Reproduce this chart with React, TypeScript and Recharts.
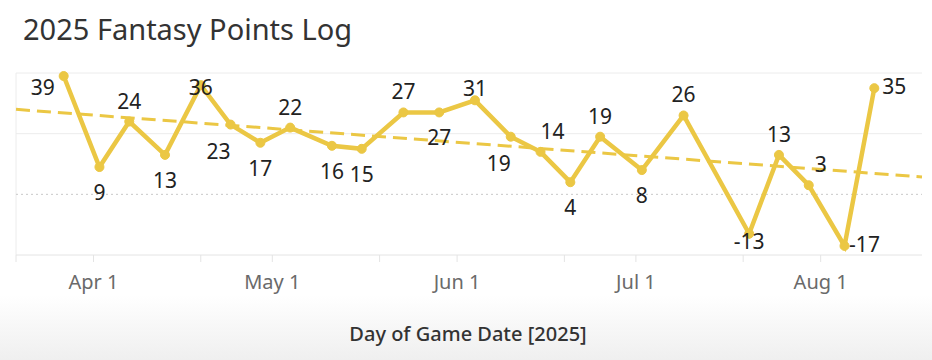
import React from "react";
import {
  LineChart,
  Line,
  XAxis,
  YAxis,
  CartesianGrid,
  ReferenceLine,
} from "recharts";

const gameDates = [
  "2025-03-27", "2025-04-02", "2025-04-07", "2025-04-13", "2025-04-19", "2025-04-24",
  "2025-04-29", "2025-05-04", "2025-05-11", "2025-05-16", "2025-05-23", "2025-05-29",
  "2025-06-04", "2025-06-10", "2025-06-15", "2025-06-20", "2025-06-25", "2025-07-02",
  "2025-07-09", "2025-07-20", "2025-07-25", "2025-07-30", "2025-08-05", "2025-08-10",
];

const fantasyPoints = [
  39, 9, 24, 13, 36, 23, 17, 22, 16, 15, 27, 27, 31, 19, 14, 4, 19, 8, 26, -13, 13, 3, -17, 35,
];

// where Tableau put each mark label
const labelSpots = [
  "l", "b", "t", "b", "c", "bl", "b", "t", "b", "b", "t", "b",
  "ts", "bl", "tr", "b", "t", "b", "t", "bs", "t", "tr", "r", "r",
];

const tickDates = [
  "2025-03-19", "2025-04-01", "2025-04-19", "2025-05-01", "2025-05-19", "2025-06-01",
  "2025-06-19", "2025-07-01", "2025-07-19", "2025-08-01",
];

const monthNames = ["Jan", "Feb", "Mar", "Apr", "May", "Jun", "Jul", "Aug", "Sep", "Oct", "Nov", "Dec"];

const domainStart = "2025-03-19";
const domainEnd = "2025-08-18";

const toTs = (s: string) => {
  const [y, m, d] = s.split("-").map(Number);
  return Date.UTC(y, m - 1, d);
};

const data = gameDates.map((d, i) => ({ date: toTs(d), points: fantasyPoints[i] }));

// least-squares trend line
const n = data.length;
const mx = data.reduce((a, p) => a + p.date, 0) / n;
const my = data.reduce((a, p) => a + p.points, 0) / n;
const slope =
  data.reduce((a, p) => a + (p.date - mx) * (p.points - my), 0) /
  data.reduce((a, p) => a + (p.date - mx) ** 2, 0);
const trendAt = (t: number) => my + slope * (t - mx);

const x0 = toTs(domainStart);
const x1 = toTs(domainEnd);

const YELLOW = "#EBC744";
const FONT = "'Noto Sans', sans-serif";

const offsets: Record<string, [number, number]> = {
  t: [0, -21],
  ts: [0, -12],
  b: [0, 25],
  bs: [0, 7],
  l: [-21, 11],
  r: [20, -2],
  tr: [12, -21],
  bl: [-12, 26],
  c: [0, 2],
};

const PointLabel = (props: any) => {
  const { x, y, value, index } = props;
  const [dx, dy] = offsets[labelSpots[index]] || [0, -20];
  return (
    <text
      x={x + dx}
      y={y + dy}
      textAnchor="middle"
      dominantBaseline="central"
      fontSize={21}
      fontFamily={FONT}
      fill="#222"
    >
      {value}
    </text>
  );
};

const fmtTick = (t: number) => {
  const d = new Date(t);
  return d.getUTCDate() === 1 ? `${monthNames[d.getUTCMonth()]} 1` : "";
};

export default function App() {
  return (
    <div
      style={{
        position: "absolute",
        left: 0,
        top: 0,
        width: 932,
        height: 360,
        background: "linear-gradient(180deg, #ffffff 0%, #ffffff 82%, #efefef 100%)",
        fontFamily: FONT,
      }}
    >
      <div
        style={{
          position: "absolute",
          left: 23,
          top: 14,
          fontSize: 29,
          lineHeight: "29px",
          color: "#333",
          whiteSpace: "nowrap",
        }}
      >
        2025 Fantasy Points Log
      </div>
      <LineChart
        width={932}
        height={360}
        data={data}
        margin={{ top: 73, right: 10, left: 16, bottom: 75 }}
      >
        <CartesianGrid
          vertical={false}
          stroke="#ececec"
          horizontalValues={[20, 40]}
        />
        <XAxis
          dataKey="date"
          type="number"
          scale="time"
          domain={[x0, x1]}
          ticks={tickDates.map(toTs)}
          tickFormatter={fmtTick}
          interval={0}
          height={30}
          stroke="#e4e4e4"
          tickSize={7}
          tickMargin={13}
          tick={{ fill: "#6a6a6a", fontSize: 20, fontFamily: FONT }}
        />
        <YAxis hide domain={[-20, 40]} ticks={[-20, 0, 20, 40]} />
        <ReferenceLine x={x0} stroke="#ececec" />
        <ReferenceLine y={0} stroke="#c8c8c8" strokeDasharray="2 3" />
        <ReferenceLine
          segment={[
            { x: x0, y: trendAt(x0) },
            { x: x1, y: trendAt(x1) },
          ]}
          stroke={YELLOW}
          strokeWidth={3}
          strokeDasharray="14 7"
        />
        <Line
          type="linear"
          dataKey="points"
          stroke={YELLOW}
          strokeWidth={4.5}
          dot={{ r: 4.5, fill: YELLOW, stroke: YELLOW, strokeWidth: 1 }}
          activeDot={false}
          label={<PointLabel />}
          isAnimationActive={false}
        />
      </LineChart>
      <div
        style={{
          position: "absolute",
          left: 468,
          top: 324,
          transform: "translateX(-50%)",
          fontSize: 20,
          lineHeight: "20px",
          fontWeight: 500,
          color: "#333",
          whiteSpace: "nowrap",
        }}
      >
        Day of Game Date [2025]
      </div>
    </div>
  );
}
